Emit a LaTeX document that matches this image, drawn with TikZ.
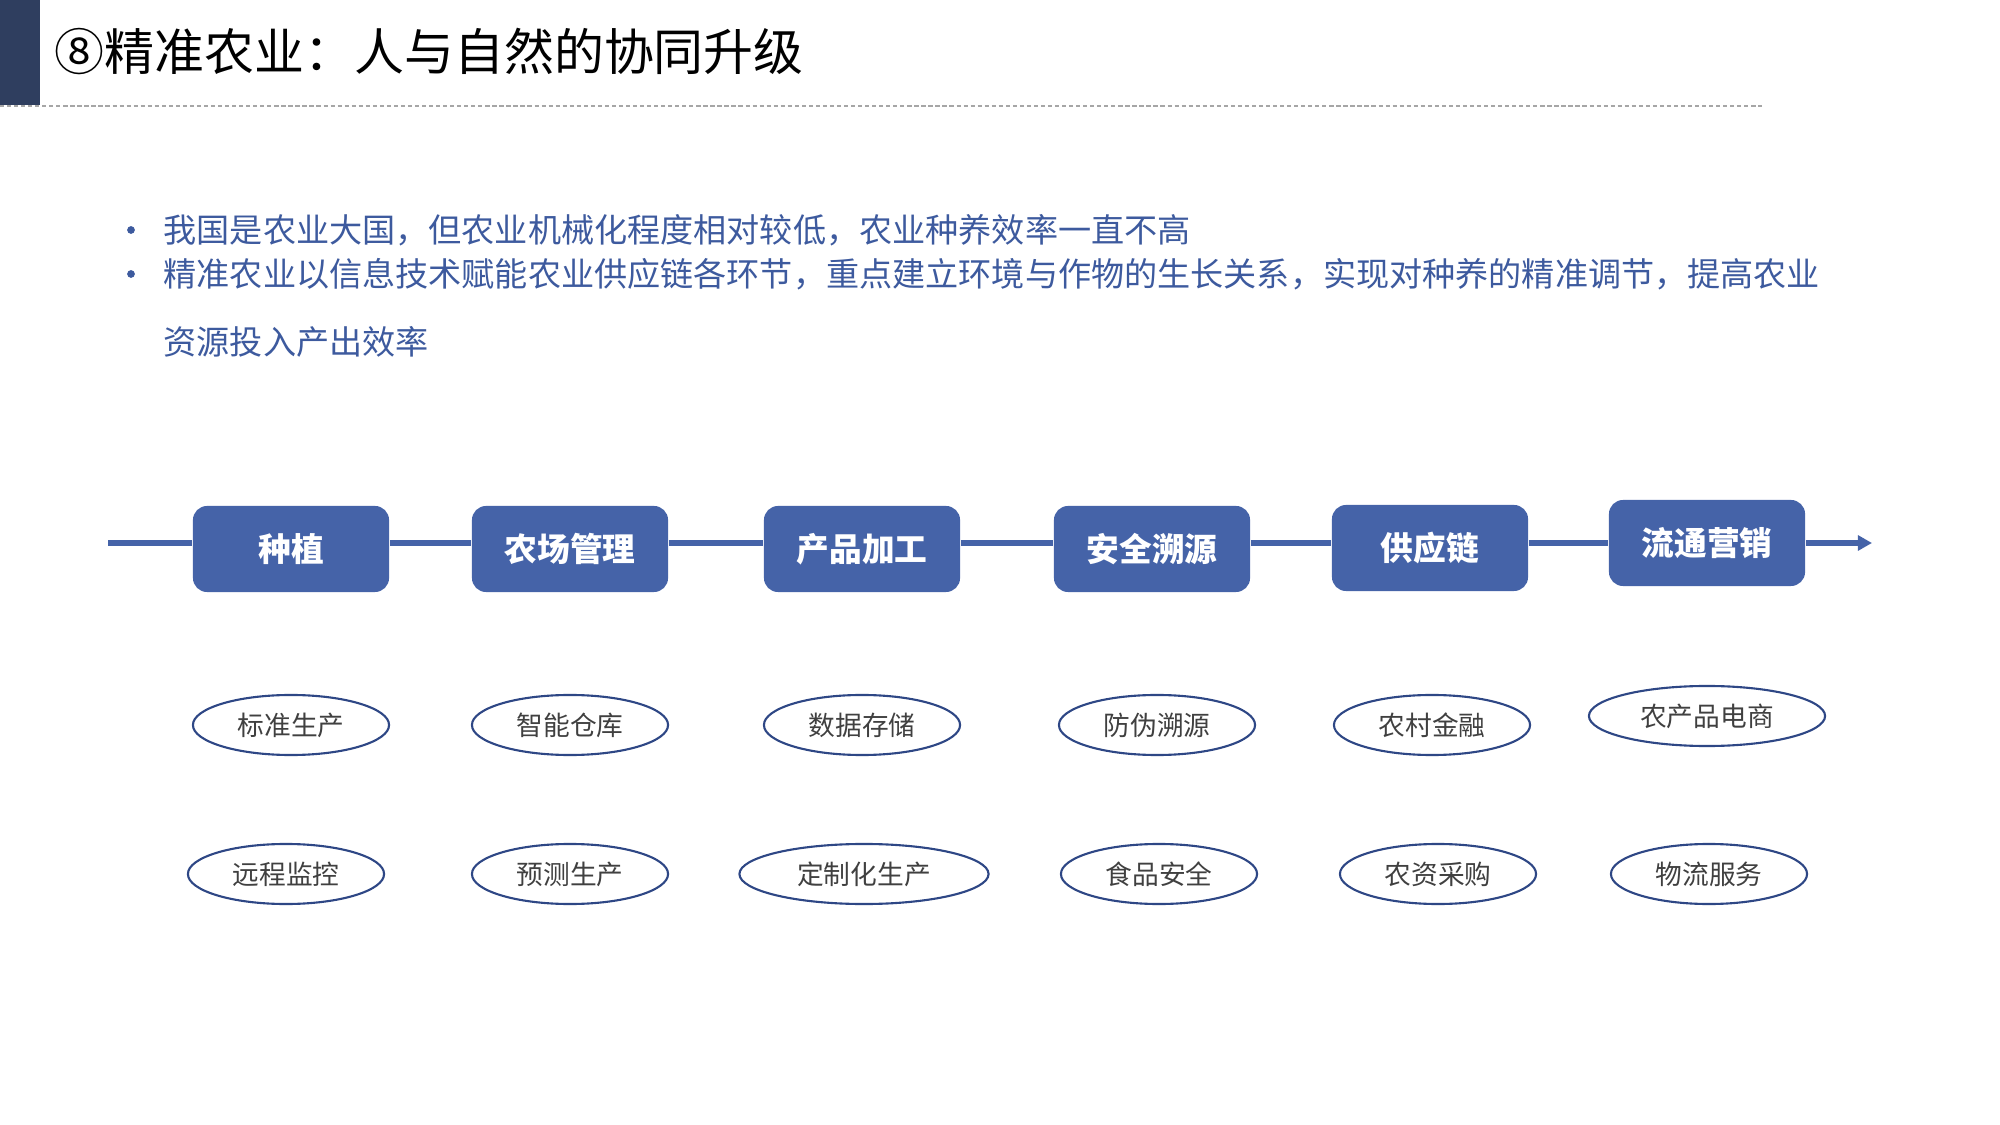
\documentclass[tikz,border=0pt]{standalone}
\usepackage{fontspec}
\setmainfont{Noto Sans CJK SC}
\usepackage{xcolor}
\usepackage{tikz}
\usetikzlibrary{positioning}
\usetikzlibrary{shapes,calc,arrows.meta}

\definecolor{barnavy}{HTML}{2F3E5F}
\definecolor{flowblue}{HTML}{4563A8}
\definecolor{textblue}{HTML}{3D5A9E}
\definecolor{ovalline}{HTML}{2E4785}
\definecolor{ovaltext}{HTML}{404040}

\begin{document}
\begin{tikzpicture}[x=0.01cm,y=-0.01cm,
  stage node/.style={rectangle,rounded corners=4pt,fill=flowblue,text=white,
    minimum width=1.96cm,minimum height=0.86cm,inner sep=0pt,
    font=\fontsize{9.3}{11}\selectfont\bfseries},
  sub node/.style={ellipse,draw=ovalline,line width=0.6pt,text=ovaltext,
    minimum width=1.96cm,minimum height=0.6cm,inner sep=0pt,
    font=\fontsize{7.6}{9}\selectfont},
  line text/.style={anchor=west,inner sep=0pt,text=textblue,
    font=\fontsize{9.42}{11}\selectfont},
  flow/.style={line width=1.6pt,draw=flowblue}]
\useasboundingbox (0,0) rectangle (2000,1125);

% header
\fill[barnavy] (0,0) rectangle (40,105);
\draw[gray!70,line width=0.4pt,dash pattern=on 1.2pt off 0.8pt] (0,106) -- (1762,106);
\node[anchor=west,inner sep=0pt,font=\fontsize{14.2}{17}\selectfont] at (54,51) (title) {⑧精准农业：人与自然的协同升级};

% bullets
\fill[textblue] (131,230) circle (1.1pt);
\fill[textblue] (131,274) circle (1.1pt);
\node[line text] at (163,230) (lineone) {我国是农业大国，但农业机械化程度相对较低，农业种养效率一直不高};
\node[line text] at (163,274) (linetwo) {精准农业以信息技术赋能农业供应链各环节，重点建立环境与作物的生长关系，实现对种养的精准调节，提高农业};
\node[line text] at (163,342) (linethree) {资源投入产出效率};

% chain
\coordinate (start) at (108,543);
\coordinate (end) at (1872,543);
\node[stage node] at (291,549) (plant) {种植};
\node[stage node] at (570,549) (farm) {农场管理};
\node[stage node] at (862,549) (process) {产品加工};
\node[stage node] at (1152,549) (trace) {安全溯源};
\node[stage node] at (1430,548) (supply) {供应链};
\node[stage node] at (1707,543) (market) {流通营销};

\draw[flow] (start) -- (plant.west |- start);
\draw[flow] (plant.east |- start) -- (farm.west |- start);
\draw[flow] (farm.east |- start) -- (process.west |- start);
\draw[flow] (process.east |- start) -- (trace.west |- start);
\draw[flow] (trace.east |- start) -- (supply.west |- start);
\draw[flow] (supply.east |- start) -- (market.west |- start);
\draw[flow,-{Triangle[length=4pt,width=4.2pt]}] (market.east |- start) -- (end);

% first row
\node[sub node] at (291,725) (standard) {标准生产};
\node[sub node] at (570,725) (storage) {智能仓库};
\node[sub node] at (862,725) (data) {数据存储};
\node[sub node] at (1157,725) (fake) {防伪溯源};
\node[sub node] at (1432,725) (finance) {农村金融};
\node[sub node,minimum width=2.36cm] at (1707,716) (ecom) {农产品电商};

% second row
\node[sub node] at (286,874) (remote) {远程监控};
\node[sub node] at (570,874) (forecast) {预测生产};
\node[sub node,minimum width=2.49cm] at (864,874) (custom) {定制化生产};
\node[sub node] at (1159,874) (food) {食品安全};
\node[sub node] at (1438,874) (purchase) {农资采购};
\node[sub node] at (1709,874) (logistics) {物流服务};
\end{tikzpicture}
\end{document}
